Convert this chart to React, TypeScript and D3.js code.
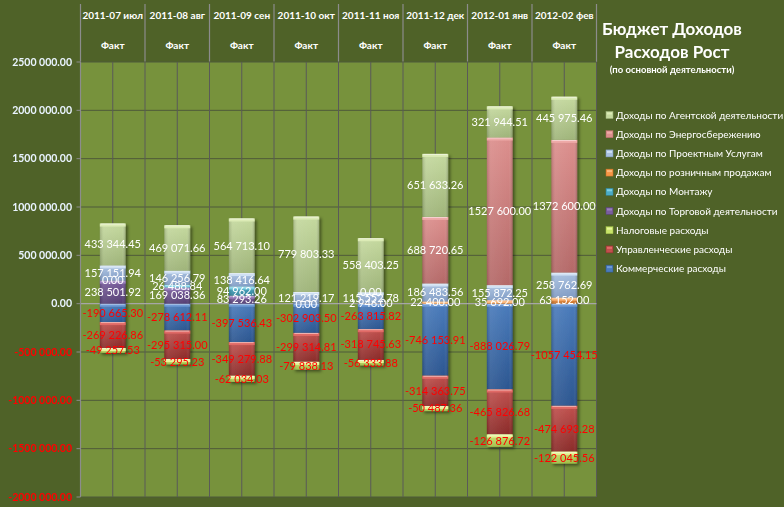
import React from 'react';
import * as d3 from 'd3';

const months = ['2011-07 июл', '2011-08 авг', '2011-09 сен', '2011-10 окт', '2011-11 ноя', '2011-12 дек', '2012-01 янв', '2012-02 фев'];
const subHeader = 'Факт';

const commercial = [-190665.30, -278612.11, -397536.43, -302903.50, -263815.82, -746153.91, -888026.79, -1057454.15];
const management = [-269226.86, -295315.00, -349279.88, -299314.81, -318745.63, -314363.75, -465826.68, -474693.28];
const tax = [-49257.53, -53295.23, -62034.03, -79838.13, -56333.88, -50487.36, -126876.72, -122045.56];
const trade = [238501.92, 169038.36, 83293.26, 0, null, null, null, null];
const montage = [0, 26488.84, 94962.00, null, null, null, null, null];
const retail = [null, null, null, null, 2946.00, 22400.00, 35692.00, 63152.00];
const project = [157151.94, 146256.79, 138416.64, 121219.17, 115552.78, 186483.56, 155872.25, 258762.69];
const energy = [null, null, null, null, 0, 688720.65, 1527600.00, 1372600.00];
const agent = [433344.45, 469071.66, 564713.10, 779803.33, 558403.25, 651633.26, 321944.51, 445975.46];

const seriesKeys = ['commercial', 'management', 'tax', 'trade', 'montage', 'retail', 'project', 'energy', 'agent'];
const seriesNames = ['Коммерческие расходы', 'Управленческие расходы', 'Налоговые расходы', 'Доходы по Торговой деятельности', 'Доходы по Монтажу', 'Доходы по розничным продажам', 'Доходы по Проектным Услугам', 'Доходы по Энергосбережению', 'Доходы по Агентской деятельности'];
const seriesValues = [commercial, management, tax, trade, montage, retail, project, energy, agent];
const yTicks = [2500000, 2000000, 1500000, 1000000, 500000, 0, -500000, -1000000, -1500000, -2000000];

const titleLines = ['Бюджет Доходов', 'Расходов Рост'];
const subtitle = '(по основной деятельности)';

// colors: [light top, base, dark bottom]
const palette = {
  commercial: ['#6f9bd6', '#4a7bbb', '#2c5690'],
  management: ['#e06a66', '#c0504d', '#8a2b29'],
  tax: ['#e6f59a', '#c8e46a', '#9fbd45'],
  trade: ['#9a80bd', '#7a5e9e', '#553f73'],
  montage: ['#7fd0e4', '#4bacc6', '#2f8299'],
  retail: ['#fbb77a', '#f79646', '#c46e25'],
  project: ['#cfe0f3', '#a9c1e0', '#7f9bc4'],
  energy: ['#eeaaa8', '#dc8f8d', '#b46968'],
  agent: ['#dcebb6', '#c5d99f', '#9fb47a'],
};

function fmt(v) {
  const s = v < 0 ? '-' : '';
  const [i, d] = Math.abs(v).toFixed(2).split('.');
  const n = i.length > 3 ? i.slice(0, -3) + ' ' + i.slice(-3) : i;
  return s + n + '.' + d;
}

export default function App() {
  const W = 784, H = 507;
  const plot = { left: 80.5, right: 596.5, top: 62, bottom: 497 };
  const x = d3.scaleBand().domain(months).range([plot.left, plot.right]).padding(0);
  const y = d3.scaleLinear().domain([-2000000, 2500000]).range([plot.bottom, plot.top]);
  const bw = x.bandwidth() * 0.4;

  const table = months.map((m, i) => {
    const row = { month: m };
    seriesKeys.forEach((k, j) => { row[k] = seriesValues[j][i]; });
    return row;
  });
  const stacked = d3.stack().keys(seriesKeys).value((d, k) => d[k] ?? 0).offset(d3.stackOffsetDiverging)(table);

  // position for zero-value labels: top of the positive stack of earlier series
  const posBase = (j, i) => {
    let s = 0;
    for (let q = 0; q < j; q++) {
      const v = seriesValues[q][i];
      if (v !== null && v > 0) s += v;
    }
    return s;
  };

  const vGrid = [];
  months.forEach((m) => {
    vGrid.push(x(m));
    vGrid.push(x(m) + x.bandwidth() / 2);
  });
  vGrid.push(plot.right);

  const font = 'Lato, "DejaVu Sans", sans-serif';

  return (
    <svg width={W} height={H} style={{ position: 'absolute', left: 0, top: 0 }} fontFamily={font}>
      <defs>
        {seriesKeys.map((k) => (
          <linearGradient key={k} id={'g-' + k} x1="0" y1="0" x2="0" y2="1">
            <stop offset="0" stopColor={palette[k][1]} />
            <stop offset="1" stopColor={palette[k][2]} />
          </linearGradient>
        ))}
        {seriesKeys.map((k) => (
          <linearGradient key={k} id={'h-' + k} x1="0" y1="0" x2="1" y2="0">
            <stop offset="0" stopColor="#000" stopOpacity="0.15" />
            <stop offset="0.15" stopColor="#fff" stopOpacity="0.08" />
            <stop offset="0.85" stopColor="#fff" stopOpacity="0.0" />
            <stop offset="1" stopColor="#000" stopOpacity="0.2" />
          </linearGradient>
        ))}
        <filter id="shadow" x="-30%" y="-10%" width="160%" height="120%">
          <feDropShadow dx="2" dy="2" stdDeviation="1.5" floodColor="#000" floodOpacity="0.45" />
        </filter>
      </defs>
      <rect x={0} y={0} width={W} height={H} fill="#4f6228" />
      <rect x={plot.left} y={plot.top} width={plot.right - plot.left} height={plot.bottom - plot.top} fill="#77923c" />

      {/* header */}
      {months.map((m) => (
        <g key={m}>
          <text x={x(m) + x.bandwidth() / 2} y={19} textAnchor="middle" fill="#fff" fontSize={10} fontWeight="bold">{m}</text>
          <text x={x(m) + x.bandwidth() / 2} y={49} textAnchor="middle" fill="#fff" fontSize={10} fontWeight="bold">{subHeader}</text>
        </g>
      ))}
      {months.map((m) => (
        <line key={m} x1={x(m)} x2={x(m)} y1={4} y2={plot.top} stroke="#8c8c8c" strokeWidth={1.2} />
      ))}
      <line x1={plot.right} x2={plot.right} y1={4} y2={plot.top} stroke="#8c8c8c" strokeWidth={1.2} />

      {/* grid */}
      {yTicks.filter((t) => t !== 0).map((t) => (
        <line key={t} x1={plot.left} x2={plot.right} y1={y(t)} y2={y(t)} stroke="#4f5a3a" strokeWidth={1} />
      ))}
      {vGrid.map((g, i) => (
        <line key={i} x1={g} x2={g} y1={plot.top} y2={plot.bottom} stroke="#5a5a58" strokeWidth={1} />
      ))}
      <line x1={plot.left} x2={plot.right} y1={y(0)} y2={y(0)} stroke="#a6a6a6" strokeWidth={1.2} />

      {/* bars */}
      <g filter="url(#shadow)">
        {stacked.map((s, j) => (
          <g key={s.key}>
            {s.map((d, i) => {
              const v = seriesValues[j][i];
              if (v === null || v === 0) return null;
              const y0 = y(Math.max(d[0], d[1]));
              const y1 = y(Math.min(d[0], d[1]));
              const h = y1 - y0;
              const bx = x(months[i]) + (x.bandwidth() - bw) / 2;
              return (
                <g key={i}>
                  <rect x={bx} y={y0} width={bw} height={h} fill={`url(#g-${s.key})`} />
                  <rect x={bx} y={y0} width={bw} height={h} fill={`url(#h-${s.key})`} />
                  <rect x={bx} y={y0} width={bw} height={Math.min(3, h)} fill={palette[s.key][0]} />
                  <rect x={bx + 1} y={y0} width={bw - 2} height={Math.min(1, h)} fill="#fff" opacity={0.5} />
                </g>
              );
            })}
          </g>
        ))}
      </g>

      {/* y axis */}
      <line x1={plot.left} x2={plot.left} y1={plot.top} y2={plot.bottom} stroke="#8c8c8c" strokeWidth={1.2} />
      {yTicks.map((t) => (
        <g key={t}>
          <line x1={plot.left - 4} x2={plot.left} y1={y(t)} y2={y(t)} stroke="#8c8c8c" strokeWidth={1} />
          <text x={72} y={y(t)} dy="0.35em" textAnchor="end" fontSize={10.5} fontWeight="bold" fill={t < 0 ? '#ff0000' : '#eaf4ff'}>{fmt(t)}</text>
        </g>
      ))}

      {/* data labels */}
      {stacked.map((s, j) => (
        <g key={s.key}>
          {s.map((d, i) => {
            const v = seriesValues[j][i];
            if (v === null) return null;
            const cy = v === 0 ? y(posBase(j, i)) : y((d[0] + d[1]) / 2);
            return (
              <text key={i} x={x(months[i]) + x.bandwidth() / 2} y={cy} dy="0.35em" textAnchor="middle" fontSize={11} fill={v < 0 ? '#ff0000' : '#ffffff'}>{fmt(v)}</text>
            );
          })}
        </g>
      ))}

      {/* title */}
      <text x={672} y={35} textAnchor="middle" fill="#fff" fontSize={17} fontWeight="bold">{titleLines[0]}</text>
      <text x={672} y={58} textAnchor="middle" fill="#fff" fontSize={17} fontWeight="bold">{titleLines[1]}</text>
      <text x={672} y={73} textAnchor="middle" fill="#fff" fontSize={9.5} fontWeight="bold">{subtitle}</text>

      {/* legend */}
      {seriesKeys.slice().reverse().map((k, i) => {
        const idx = seriesKeys.indexOf(k);
        const ly = 115 + i * 19.2;
        return (
          <g key={k}>
            <rect x={606} y={ly - 3.5} width={7} height={7} fill={palette[k][1]} stroke={palette[k][2]} strokeWidth={0.5} />
            <rect x={607} y={ly - 2.5} width={5} height={2} fill={palette[k][0]} />
            <text x={616} y={ly} dy="0.35em" fontSize={10} fill="#fff">{seriesNames[idx]}</text>
          </g>
        );
      })}
    </svg>
  );
}
